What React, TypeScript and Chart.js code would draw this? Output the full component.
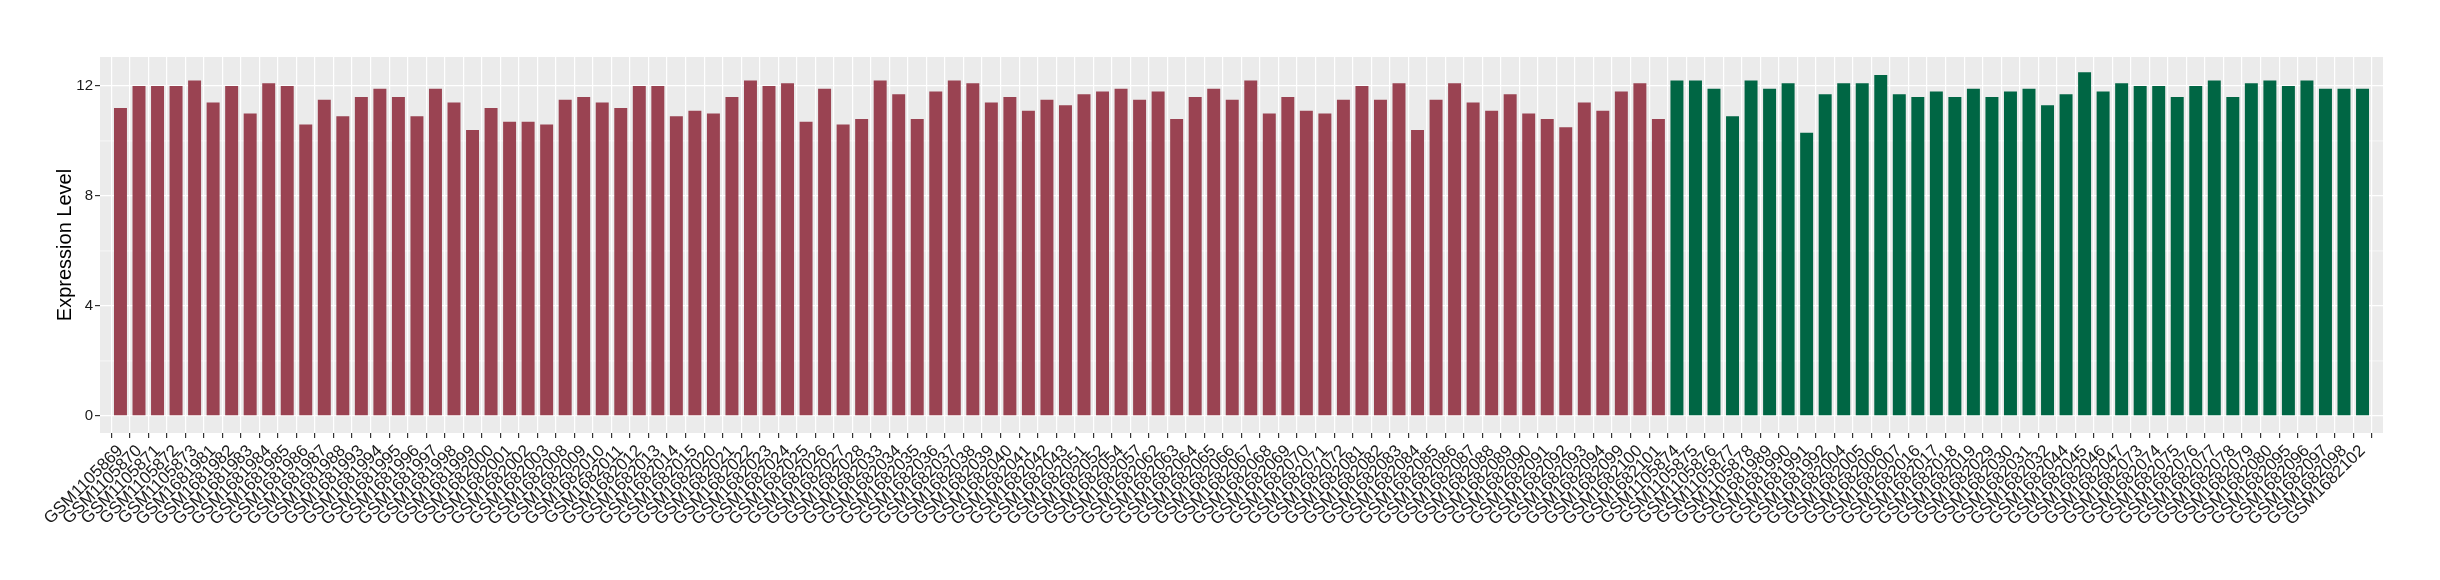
import React, { useEffect, useRef } from "react";
import { Chart, registerables } from "chart.js";

Chart.register(...registerables);

// Group 1 (red) samples and expression values
const redSamples = [
  "GSM1105869", "GSM1105870", "GSM1105871", "GSM1105872", "GSM1105873",
  "GSM1681981", "GSM1681982", "GSM1681983", "GSM1681984", "GSM1681985",
  "GSM1681986", "GSM1681987", "GSM1681988", "GSM1681993", "GSM1681994",
  "GSM1681995", "GSM1681996", "GSM1681997", "GSM1681998", "GSM1681999",
  "GSM1682000", "GSM1682001", "GSM1682002", "GSM1682003", "GSM1682008",
  "GSM1682009", "GSM1682010", "GSM1682011", "GSM1682012", "GSM1682013",
  "GSM1682014", "GSM1682015", "GSM1682020", "GSM1682021", "GSM1682022",
  "GSM1682023", "GSM1682024", "GSM1682025", "GSM1682026", "GSM1682027",
  "GSM1682028", "GSM1682033", "GSM1682034", "GSM1682035", "GSM1682036",
  "GSM1682037", "GSM1682038", "GSM1682039", "GSM1682040", "GSM1682041",
  "GSM1682042", "GSM1682043", "GSM1682051", "GSM1682052", "GSM1682054",
  "GSM1682057", "GSM1682062", "GSM1682063", "GSM1682064", "GSM1682065",
  "GSM1682066", "GSM1682067", "GSM1682068", "GSM1682069", "GSM1682070",
  "GSM1682071", "GSM1682072", "GSM1682081", "GSM1682082", "GSM1682083",
  "GSM1682084", "GSM1682085", "GSM1682086", "GSM1682087", "GSM1682088",
  "GSM1682089", "GSM1682090", "GSM1682091", "GSM1682092", "GSM1682093",
  "GSM1682094", "GSM1682099", "GSM1682100", "GSM1682101",
];
const redValues = [
  11.2, 12.0, 12.0, 12.0, 12.2, 11.4, 12.0, 11.0, 12.1, 12.0,
  10.6, 11.5, 10.9, 11.6, 11.9, 11.6, 10.9, 11.9, 11.4, 10.4,
  11.2, 10.7, 10.7, 10.6, 11.5, 11.6, 11.4, 11.2, 12.0, 12.0,
  10.9, 11.1, 11.0, 11.6, 12.2, 12.0, 12.1, 10.7, 11.9, 10.6,
  10.8, 12.2, 11.7, 10.8, 11.8, 12.2, 12.1, 11.4, 11.6, 11.1,
  11.5, 11.3, 11.7, 11.8, 11.9, 11.5, 11.8, 10.8, 11.6, 11.9,
  11.5, 12.2, 11.0, 11.6, 11.1, 11.0, 11.5, 12.0, 11.5, 12.1,
  10.4, 11.5, 12.1, 11.4, 11.1, 11.7, 11.0, 10.8, 10.5, 11.4,
  11.1, 11.8, 12.1, 10.8,
];

// Group 2 (green) samples and expression values
const greenSamples = [
  "GSM1105874", "GSM1105875", "GSM1105876", "GSM1105877", "GSM1105878",
  "GSM1681989", "GSM1681990", "GSM1681991", "GSM1681992", "GSM1682004",
  "GSM1682005", "GSM1682006", "GSM1682007", "GSM1682016", "GSM1682017",
  "GSM1682018", "GSM1682019", "GSM1682029", "GSM1682030", "GSM1682031",
  "GSM1682032", "GSM1682044", "GSM1682045", "GSM1682046", "GSM1682047",
  "GSM1682073", "GSM1682074", "GSM1682075", "GSM1682076", "GSM1682077",
  "GSM1682078", "GSM1682079", "GSM1682080", "GSM1682095", "GSM1682096",
  "GSM1682097", "GSM1682098", "GSM1682102",
];
const greenValues = [
  12.2, 12.2, 11.9, 10.9, 12.2, 11.9, 12.1, 10.3, 11.7, 12.1,
  12.1, 12.4, 11.7, 11.6, 11.8, 11.6, 11.9, 11.6, 11.8, 11.9,
  11.3, 11.7, 12.5, 11.8, 12.1, 12.0, 12.0, 11.6, 12.0, 12.2,
  11.6, 12.1, 12.2, 12.0, 12.2, 11.9, 11.9, 11.9,
];

const yTickValues = [0, 4, 8, 12];
const yMinorValues = [2, 6, 10];
const yTitle = "Expression Level";

const allSamples = [...redSamples, ...greenSamples];

const FONT = "'Liberation Sans', Arial, sans-serif";

export default function App() {
  const canvasRef = useRef<HTMLCanvasElement | null>(null);

  useEffect(() => {
    document.body.style.margin = "0";
    const canvas = canvasRef.current;
    if (!canvas) return;

    const panelPlugin = {
      id: "panelBg",
      beforeDraw(chart: any) {
        const { ctx, chartArea } = chart;
        ctx.save();
        ctx.fillStyle = "#EBEBEB";
        ctx.fillRect(chartArea.left, chartArea.top, chartArea.right - chartArea.left, chartArea.bottom - chartArea.top);
        ctx.restore();
      },
      beforeDatasetsDraw(chart: any) {
        const { ctx, chartArea, scales } = chart;
        ctx.save();
        ctx.strokeStyle = "#FFFFFF";
        ctx.lineWidth = 0.6;
        for (const v of yMinorValues) {
          const py = scales.y.getPixelForValue(v);
          ctx.beginPath();
          ctx.moveTo(chartArea.left, py);
          ctx.lineTo(chartArea.right, py);
          ctx.stroke();
        }
        ctx.restore();
      },
    };

    const chart = new Chart(canvas, {
      type: "bar",
      data: {
        datasets: [
          {
            label: "group1",
            data: redValues.map((v, i) => ({ x: i, y: v })),
            backgroundColor: "rgb(154,67,82)",
            grouped: false,
            barPercentage: 0.7,
            categoryPercentage: 1,
          } as any,
          {
            label: "group2",
            data: greenValues.map((v, i) => ({ x: redSamples.length + i, y: v })),
            backgroundColor: "rgb(0,102,68)",
            grouped: false,
            barPercentage: 0.7,
            categoryPercentage: 1,
          } as any,
        ],
      },
      options: {
        responsive: false,
        animation: false,
        layout: { padding: { left: 49, top: 57, right: 57, bottom: 0 } },
        plugins: {
          legend: { display: false },
          tooltip: { enabled: false },
        },
        scales: {
          x: {
            type: "linear",
            min: -0.6,
            max: allSamples.length - 1 + 0.6,
            afterBuildTicks: (scale: any) => {
              scale.ticks = allSamples.map((_, i) => ({ value: i }));
            },
            afterFit: (scale: any) => {
              scale.height = 147;
            },
            ticks: {
              autoSkip: false,
              maxRotation: 45,
              minRotation: 45,
              padding: 3,
              color: "#1A1A1A",
              font: { family: FONT, size: 17 },
              callback: (value: any) => allSamples[Math.round(Number(value))] ?? "",
            },
            grid: {
              color: "#FFFFFF",
              lineWidth: 1.2,
              tickColor: "#333333",
              tickLength: 5,
              drawTicks: true,
            },
            border: { display: false },
          },
          y: {
            type: "linear",
            min: -0.62,
            max: 13.05,
            afterBuildTicks: (scale: any) => {
              scale.ticks = yTickValues.map((v) => ({ value: v }));
            },
            afterFit: (scale: any) => {
              scale.width = 51;
            },
            ticks: {
              padding: 2,
              color: "#1A1A1A",
              font: { family: FONT, size: 15 },
            },
            grid: {
              color: "#FFFFFF",
              lineWidth: 1.2,
              tickColor: "#333333",
              tickLength: 5,
            },
            border: { display: false },
            title: {
              display: true,
              text: yTitle,
              color: "#000000",
              font: { family: FONT, size: 20 },
            },
          },
        },
      },
      plugins: [panelPlugin],
    });

    return () => chart.destroy();
  }, []);

  return (
    <div style={{ width: 2440, height: 580 }}>
      <canvas ref={canvasRef} width={2440} height={580} style={{ display: "block" }} />
    </div>
  );
}
